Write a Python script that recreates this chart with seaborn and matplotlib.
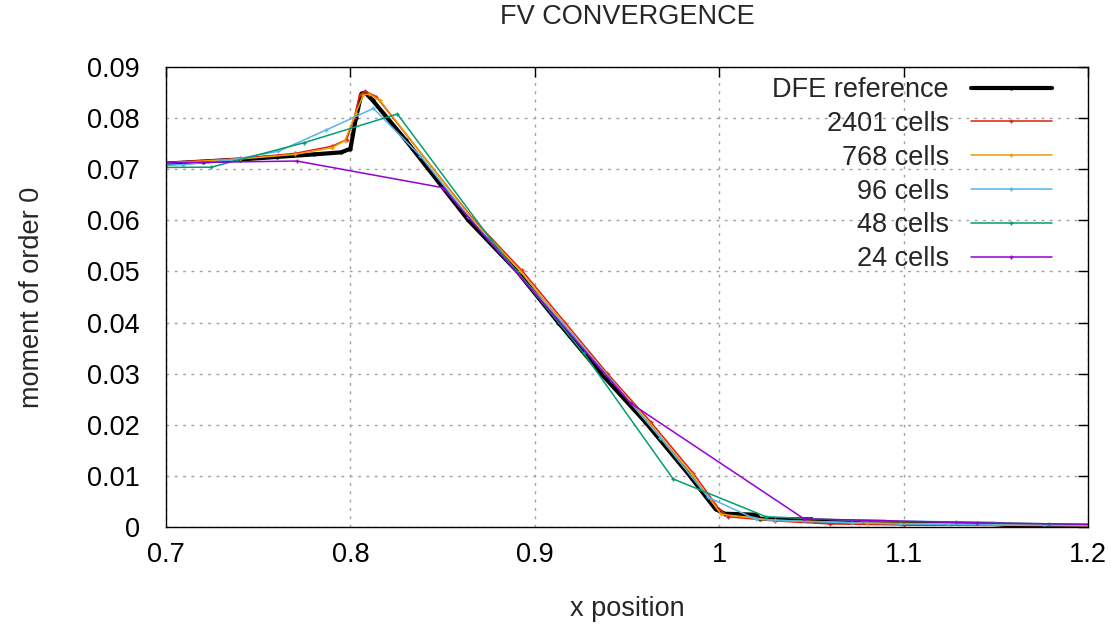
import numpy as np
import pandas as pd
import matplotlib
matplotlib.use("Agg")
import matplotlib.pyplot as plt
import seaborn as sns

# valeurs
x_dfe = [0.700, 0.720, 0.740, 0.760, 0.780, 0.795, 0.800, 0.803, 0.806, 0.808, 0.812,
         0.830, 0.864, 0.8905, 0.9128, 0.936, 0.960, 0.983, 0.998, 1.003, 1.020, 1.022,
         1.050, 1.052, 1.090, 1.100, 1.150, 1.168, 1.200]
y_dfe = [0.0711, 0.0715, 0.0719, 0.0724, 0.0729, 0.0733, 0.0740, 0.0800, 0.0848, 0.0850, 0.0835,
         0.0757, 0.0600, 0.0500, 0.0400, 0.0300, 0.0205, 0.0105, 0.0035, 0.0026, 0.0024, 0.0016,
         0.0015, 0.0011, 0.0010, 0.0007, 0.0006, -0.0002, -0.0002]

x_2401 = [0.700, 0.740, 0.770, 0.790, 0.798, 0.802, 0.805, 0.808, 0.814, 0.866, 0.893,
          0.916, 0.939, 0.963, 0.986, 1.000, 1.005, 1.030, 1.060, 1.100, 1.150, 1.200]
y_2401 = [0.0713, 0.0721, 0.0731, 0.0745, 0.0758, 0.0800, 0.0845, 0.0853, 0.0842, 0.0605, 0.0502,
          0.0402, 0.0302, 0.0205, 0.0105, 0.0035, 0.0020, 0.0012, 0.0006, 0.0004, 0.0003, 0.0003]

x_768 = [0.700, 0.740, 0.770, 0.790, 0.797, 0.803, 0.807, 0.810, 0.816, 0.866, 0.892,
         0.915, 0.938, 0.962, 0.985, 1.001, 1.030, 1.080, 1.150, 1.200]
y_768 = [0.0712, 0.0720, 0.0729, 0.0742, 0.0756, 0.0810, 0.0846, 0.0847, 0.0835, 0.0603, 0.0501,
         0.0401, 0.0301, 0.0204, 0.0104, 0.0025, 0.0013, 0.0008, 0.0005, 0.0002]

x_96 = [0.683, 0.709, 0.735, 0.761, 0.787, 0.8125, 0.838, 0.864, 0.890, 0.916, 0.942,
        0.968, 0.994, 1.020, 1.046, 1.072, 1.098, 1.124, 1.150, 1.176, 1.202]
y_96 = [0.0706, 0.0709, 0.0718, 0.0735, 0.0777, 0.0819, 0.0726, 0.0607, 0.0500, 0.0395, 0.0285,
        0.0175, 0.0058, 0.0015, 0.0011, 0.0008, 0.0006, 0.0005, 0.0004, 0.0003, 0.0003]

x_48 = [0.674, 0.7245, 0.775, 0.8255, 0.876, 0.9265, 0.975, 1.0255, 1.078, 1.1285, 1.179, 1.2295]
y_48 = [0.0703, 0.0704, 0.0752, 0.0808, 0.0563, 0.0340, 0.0094, 0.0020, 0.0012, 0.0010, 0.0006, 0.0004]

x_24 = [0.670, 0.771, 0.850, 0.952, 1.046, 1.140, 1.230]
y_24 = [0.0711, 0.0716, 0.0664, 0.0242, 0.0016, 0.0008, 0.0004]

series = [
    ("DFE reference", x_dfe, y_dfe, "black", 3.0, "."),
    ("2401 cells", x_2401, y_2401, "#e51e10", 1.1, "+"),
    ("768 cells", x_768, y_768, "#e69f00", 1.1, "+"),
    ("96 cells", x_96, y_96, "#56b4e9", 1.1, "+"),
    ("48 cells", x_48, y_48, "#009e73", 1.1, "+"),
    ("24 cells", x_24, y_24, "#9400d3", 1.1, "+"),
]

x_ticks = [0.7, 0.8, 0.9, 1.0, 1.1, 1.2]
x_labels = ["0.7", "0.8", "0.9", "1", "1.1", "1.2"]
y_ticks = [0, 0.01, 0.02, 0.03, 0.04, 0.05, 0.06, 0.07, 0.08, 0.09]
y_labels = ["0", "0.01", "0.02", "0.03", "0.04", "0.05", "0.06", "0.07", "0.08", "0.09"]

FS = 19.5

sns.set_style("white")
plt.rcParams["font.family"] = ["Liberation Sans", "DejaVu Sans"]
plt.rcParams["font.size"] = FS

fig = plt.figure(figsize=(11.11, 6.32), dpi=100)
ax = fig.add_axes([166 / 1111, 1 - 527 / 632, 922 / 1111, 460 / 632])

for name, xs, ys, col, lw, mk in series:
    df = pd.DataFrame({"x": xs, "y": ys})
    sns.lineplot(data=df, x="x", y="y", ax=ax, sort=False, estimator=None,
                 color=col, linewidth=lw, marker=mk, markersize=4 if mk == "." else 3.5,
                 markeredgewidth=1.0, markeredgecolor=col, label=name)

ax.set_xlim(0.7, 1.2)
ax.set_ylim(0, 0.09)
ax.set_xticks(x_ticks)
ax.set_xticklabels(x_labels)
ax.set_yticks(y_ticks)
ax.set_yticklabels(y_labels)
ax.tick_params(direction="in", top=True, right=True, length=7, width=1, labelsize=FS,
               colors="black")
ax.tick_params(axis="x", pad=11)
ax.tick_params(axis="y", pad=19)
ax.grid(True, linestyle=(0, (2, 4)), color="#a0a0a0", linewidth=1)
for s in ax.spines.values():
    s.set_color("black")
    s.set_linewidth(1)

ax.set_xlabel("x position", fontsize=FS, labelpad=20)
ax.set_ylabel("moment of order 0", fontsize=FS, labelpad=30)
ax.set_title("FV CONVERGENCE", fontsize=FS, pad=31)

leg = ax.legend(loc="upper right", bbox_to_anchor=((1052 - 166) / 922, (527 - 77) / 460),
                frameon=False, markerfirst=False, borderaxespad=0, borderpad=0,
                handlelength=3.0, handletextpad=0.8, labelspacing=0.29, fontsize=FS)

plt.savefig("out.png", dpi=100)
